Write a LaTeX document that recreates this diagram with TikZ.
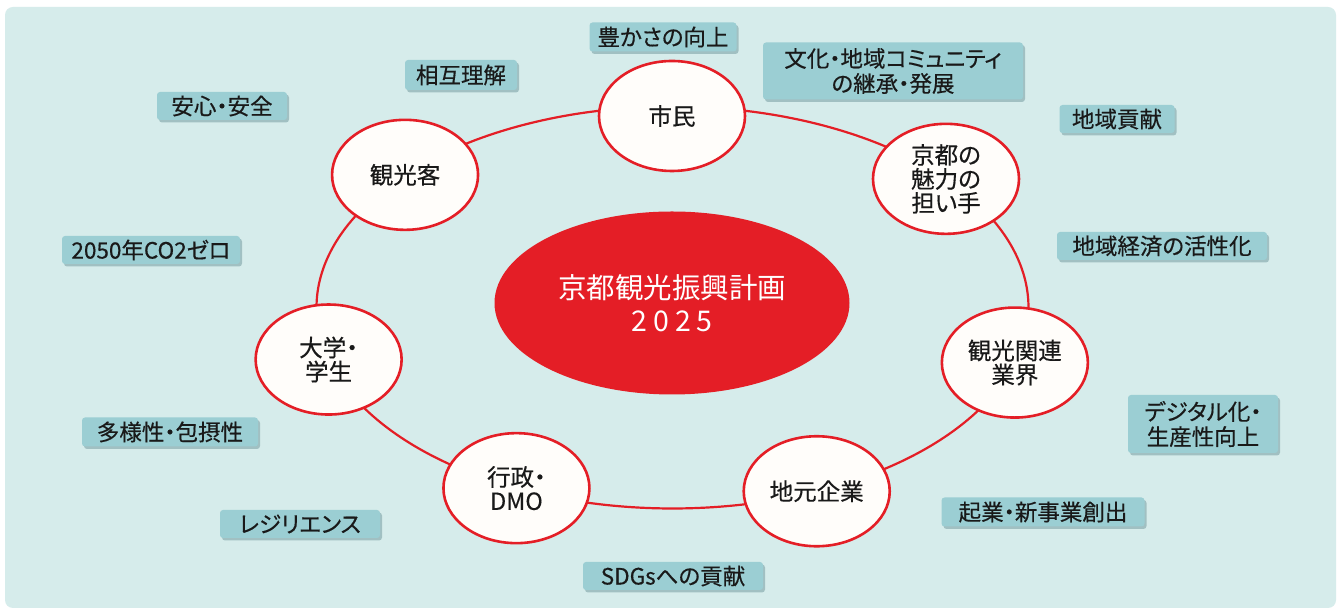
\documentclass[tikz,border=0pt]{standalone}
\usepackage{fontspec}
\setmainfont{Noto Sans CJK JP}
\newfontfamily\medfont{Noto Sans CJK JP}[FakeBold=0.4, RawFeature=+palt]
\usetikzlibrary{shapes.geometric,shadows}
\definecolor{panelbg}{RGB}{214,236,235}
\definecolor{lblfill}{RGB}{155,206,211}
\definecolor{lblshadow}{RGB}{110,150,155}
\definecolor{kred}{RGB}{228,30,38}
\definecolor{nodefill}{RGB}{255,253,250}
\definecolor{txt}{RGB}{25,25,25}
\pgfdeclarelayer{backlayer}
\pgfdeclarelayer{ringlayer}
\pgfsetlayers{backlayer,ringlayer,main}
\tikzset{
  actor/.style={ellipse, draw=kred, line width=2.6pt, fill=nodefill, minimum width=146pt, minimum height=110pt,
    inner sep=0pt, align=center, text=txt, font=\medfont\fontsize{23.5}{24}\selectfont},
  ringline/.style={draw=kred, line width=2.2pt},
  lbl/.style={fill=lblfill, rounded corners=3pt, inner sep=0pt, minimum height=28pt, align=center, text=txt,
    font=\medfont\fontsize{22.5}{25}\selectfont,
    drop shadow={shadow xshift=2pt, shadow yshift=-2.5pt, fill=lblshadow, opacity=0.5}},
  core/.style={ellipse, fill=kred, minimum width=355pt, minimum height=183pt, inner sep=0pt, align=center,
    text=white, font=\fontsize{28.5}{33}\selectfont}
}
% ring arc between two points of the ring ellipse, counter-clockwise from parameter #3 to #4
\newcommand\ringarc[4]{%
  \pgfmathsetmacro\kkloose{4/3*tan((#4-#3)/4)}%
  \draw[ringline] #1 .. controls +({-\kkloose*356*sin(#3)},{\kkloose*201*cos(#3)})
      and +({\kkloose*356*sin(#4)},{-\kkloose*201*cos(#4)}) .. #2;%
}
\begin{document}
\begin{tikzpicture}[x=1pt,y=1pt]
\useasboundingbox (0,0) rectangle (1341,612);
\begin{pgfonlayer}{backlayer}
\fill[white] (0,0) rectangle (1341,612);
\fill[panelbg, rounded corners=8pt] (5,4) rectangle (1336,605);
\end{pgfonlayer}

% center
\node[core] (plan) at (672,309) {京都観光振興計画\\2\hspace{6pt}0\hspace{6pt}2\hspace{6pt}5};

% actors (on the ring ellipse: centre (672.5,304.5), radii 356 x 201)
\node[actor] (shimin) at (672,496) {市民};
\node[actor] (miryoku) at ({672.5+356*cos(39.8)},{304.5+201*sin(39.8)}) {京都の\\魅力の\\担い手};
\node[actor] (kanren) at ({672.5+356*cos(-15.9)},{304.5+201*sin(-15.9)}) {観光関連\\業界};
\node[actor] (jimoto) at ({672.5+356*cos(293.9)},{304.5+201*sin(293.9)}) {地元企業};
\node[actor] (gyosei) at ({672.5+356*cos(244)},{304.5+201*sin(244)}) {行政・\\DMO};
\node[actor] (daigaku) at ({672.5+356*cos(195)},{304.5+201*sin(195)}) {大学・\\学生};
\node[actor] (kankokyaku) at ({672.5+356*cos(138.7)},{304.5+201*sin(138.7)}) {観光客};

% ring, node to node
\begin{pgfonlayer}{ringlayer}
\ringarc{(kanren.center)}{(miryoku.center)}{-15.9}{39.8}
\ringarc{(miryoku.center)}{([yshift=9.5pt]shimin.center)}{39.8}{90}
\ringarc{([yshift=9.5pt]shimin.center)}{(kankokyaku.center)}{90}{138.7}
\ringarc{(kankokyaku.center)}{(daigaku.center)}{138.7}{195}
\ringarc{(daigaku.center)}{(gyosei.center)}{195}{244}
\ringarc{(gyosei.center)}{(jimoto.center)}{244}{293.9}
\ringarc{(jimoto.center)}{(kanren.center)}{293.9}{344.1}
\end{pgfonlayer}

% labels
\node[lbl, minimum width=147pt, minimum height=29pt] (yutaka) at (663,575) {豊かさの向上};
\node[lbl, minimum width=260pt, minimum height=57pt] (bunka) at (893,541) {文化・地域コミュニティ\\の継承・発展};
\node[lbl, minimum width=112pt, minimum height=30pt] (sogo) at (461,537) {相互理解};
\node[lbl, minimum width=130pt] (anshin) at (222,506) {安心・安全};
\node[lbl, minimum width=178pt] (co2) at (151,362) {2050年CO2ゼロ};
\node[lbl, minimum width=115pt] (koken) at (1117,493) {地域貢献};
\node[lbl, minimum width=210pt] (keizai) at (1162,366) {地域経済の活性化};
\node[lbl, minimum width=150pt, minimum height=58pt] (digital) at (1203,188) {デジタル化・\\生産性向上};
\node[lbl, minimum width=203pt, minimum height=29pt] (kigyo) at (1043,100) {起業・新事業創出};
\node[lbl, minimum width=180pt] (sdgs) at (673,36) {SDGsへの貢献};
\node[lbl, minimum width=176pt, minimum height=29pt] (tayo) at (170,180) {多様性・包摂性};
\node[lbl, minimum width=160pt] (resi) at (300,88) {レジリエンス};
\end{tikzpicture}
\end{document}
